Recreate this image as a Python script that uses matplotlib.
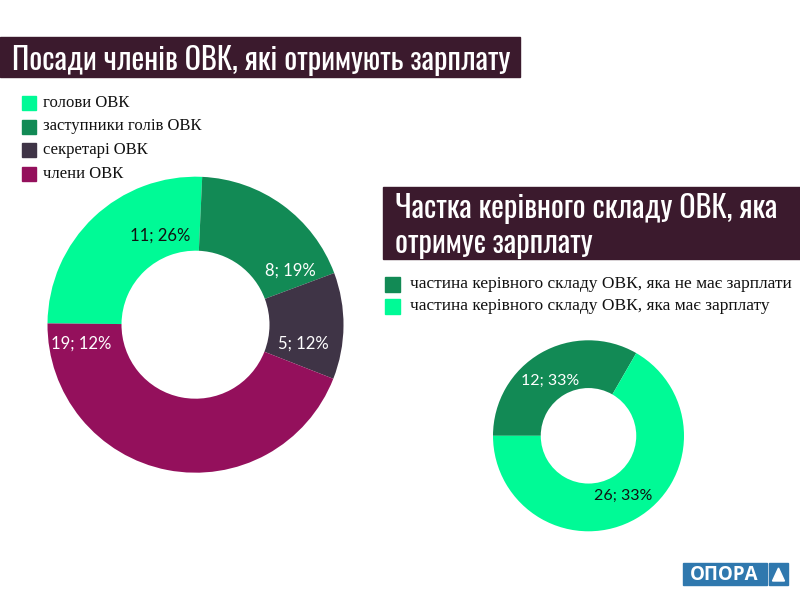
import numpy as np
import matplotlib
matplotlib.use("Agg")
import matplotlib.pyplot as plt
from matplotlib.patches import Rectangle, Polygon

W, H = 800, 600

# left donut: positions of OVK members who get a salary
pos_labels = ["голови ОВК", "заступники голів ОВК", "секретарі ОВК", "члени ОВК"]
pos_counts = [11, 8, 5, 19]
pos_text = ["11; 26%", "8; 19%", "5; 12%", "19; 12%"]
pos_colors = ["#00fa96", "#128a55", "#3f3446", "#94105c"]
pos_text_colors = ["#111111", "white", "white", "white"]

# right donut: share of leadership that gets a salary
share_labels = ["частина керівного складу ОВК, яка не має зарплати",
                "частина керівного складу ОВК, яка має зарплату"]
share_counts = [12, 24]
share_text = ["12; 33%", "26; 33%"]
share_colors = ["#128a55", "#00fa96"]
share_text_colors = ["white", "#111111"]

TITLE_BG = "#3b1a2d"
TITLE_FONT = ["Oswald", "Roboto Condensed", "DejaVu Sans"]
SERIF = ["Liberation Serif", "DejaVu Serif"]
LABEL_FONT = ["Lato", "DejaVu Sans"]


def px(x, y):
    return x / W, 1 - y / H


def donut(fig, cx, cy, r, counts, colors, texts, text_colors, spots, start, fs):
    ax = fig.add_axes([(cx - r) / W, (H - cy - r) / H, 2 * r / W, 2 * r / H])
    ax.pie(counts, colors=colors, startangle=start, counterclock=False,
           wedgeprops=dict(width=0.5, edgecolor="none"), radius=1.0)
    ax.set_xlim(-1, 1)
    ax.set_ylim(-1, 1)
    ax.set_aspect("equal")
    ax.axis("off")
    for t, c, (ang, rad) in zip(texts, text_colors, spots):
        a = np.deg2rad(ang)
        ax.text(rad * np.cos(a), rad * np.sin(a), t, color=c, fontsize=fs,
                family=LABEL_FONT, ha="center", va="center")
    return ax


def title_box(fig, x0, y0, x1, y1, lines, fs):
    fig.patches.append(Rectangle(px(x0, y1), (x1 - x0) / W, (y1 - y0) / H,
                                 transform=fig.transFigure, color=TITLE_BG, zorder=1))
    n = len(lines)
    step = (y1 - y0) / n
    for i, line in enumerate(lines):
        fig.text(*px(x0 + 12, y0 + step * (i + 0.5)), line, color="white",
                 fontsize=fs, family=TITLE_FONT, ha="left", va="center_baseline", zorder=2)


def legend(fig, x, y, dy, labels, colors, fs, sq=15, gap=7):
    for i, (lab, col) in enumerate(zip(labels, colors)):
        yy = y + i * dy
        fig.patches.append(Rectangle(px(x, yy + sq / 2), sq / W, sq / H,
                                     transform=fig.transFigure, color=col))
        fig.text(*px(x + sq + gap, yy), lab, fontsize=fs, family=SERIF,
                 color="#111111", ha="left", va="center")


fig = plt.figure(figsize=(8, 6), dpi=100)
fig.patch.set_facecolor("white")

title_box(fig, 0, 37, 520, 77, ["Посади членів ОВК, які отримують зарплату"], 21.8)
legend(fig, 22, 103, 23.5, pos_labels, pos_colors, 12, sq=14)

title_box(fig, 383, 187, 800, 259,
          ["Частка керівного складу ОВК, яка", "отримує зарплату"], 21.8)
legend(fig, 385, 284, 22.5, share_labels, share_colors, 12.5, gap=10)

donut(fig, 195.5, 324.7, 148, pos_counts, pos_colors, pos_text, pos_text_colors,
      [(111.5, 0.65), (29.7, 0.74), (-10.1, 0.74), (189.6, 0.78)], 179.5, 12)
donut(fig, 588.5, 435.8, 95.5, share_counts, share_colors, share_text, share_text_colors,
      [(124.8, 0.70), (-60.1, 0.72)], 180, 11.5)

# OPORA logo
logo_blue = "#2f78ae"
fig.patches.append(Rectangle(px(683, 585), 84 / W, 22 / H, transform=fig.transFigure,
                             color=logo_blue))
fig.patches.append(Rectangle(px(769, 585), 19 / W, 22 / H, transform=fig.transFigure,
                             color=logo_blue))
fig.text(*px(724.5, 574.5), "ОПОРА", color="white", fontsize=13.5, fontweight="bold",
         family=["Open Sans", "DejaVu Sans"], ha="center", va="center")
fig.patches.append(Polygon([px(772.5, 581), px(784.5, 581), px(778.5, 568)], closed=True,
                           transform=fig.transFigure, color="white"))

fig.savefig("out.png", dpi=100, facecolor="white")
